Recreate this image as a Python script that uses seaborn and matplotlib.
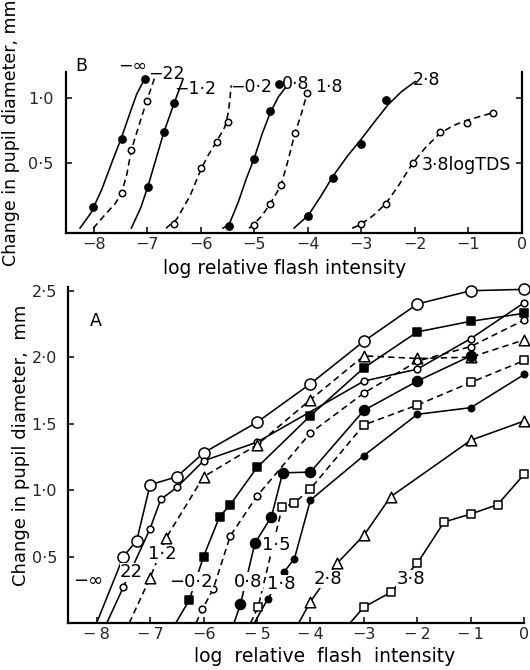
import numpy as np
import pandas as pd
import matplotlib
matplotlib.use("Agg")
import matplotlib.pyplot as plt
import seaborn as sns

# ---------------- DATA ----------------
# Panel B: measured points and hand-fitted curves (log relative flash intensity, change in pupil diameter mm)
b_inf_x = [-8.01, -7.48, -7.05]
b_inf_y = [0.16, 0.69, 1.15]
b_inf_fx = [-8.26, -8.05, -7.85, -7.65, -7.48, -7.33, -7.20, -7.05]
b_inf_fy = [0.0, 0.12, 0.30, 0.52, 0.70, 0.88, 1.03, 1.15]

b_m22_x = [-7.48, -7.30, -7.01]
b_m22_y = [0.27, 0.60, 0.98]
b_m22_fx = [-8.01, -7.80, -7.60, -7.48, -7.38, -7.30, -7.15, -7.01, -6.86]
b_m22_fy = [0.0, 0.10, 0.19, 0.27, 0.42, 0.60, 0.80, 0.98, 1.16]

b_m12_x = [-6.99, -6.69, -6.50]
b_m12_y = [0.32, 0.74, 0.96]
b_m12_fx = [-7.30, -7.12, -6.99, -6.84, -6.69, -6.50, -6.33]
b_m12_fy = [0.0, 0.16, 0.32, 0.53, 0.74, 0.96, 1.15]

b_m02_x = [-6.50, -5.99, -5.70, -5.50]
b_m02_y = [0.03, 0.46, 0.66, 0.82]
b_m02_fx = [-6.65, -6.45, -6.20, -5.99, -5.85, -5.70, -5.55, -5.48, -5.43]
b_m02_fy = [0.0, 0.07, 0.25, 0.46, 0.57, 0.67, 0.78, 0.90, 1.10]

b_p08_x = [-5.47, -5.00, -4.70, -4.53]
b_p08_y = [0.02, 0.53, 0.90, 1.11]
b_p08_fx = [-5.59, -5.47, -5.30, -5.15, -5.00, -4.85, -4.70, -4.55, -4.42]
b_p08_fy = [0.0, 0.03, 0.20, 0.38, 0.54, 0.73, 0.89, 1.01, 1.08]

b_p18_x = [-5.01, -4.70, -4.50, -4.24, -4.01]
b_p18_y = [0.025, 0.19, 0.33, 0.73, 1.04]
b_p18_fx = [-5.10, -5.01, -4.85, -4.70, -4.50, -4.37, -4.24, -4.12, -4.01]
b_p18_fy = [0.0, 0.03, 0.10, 0.19, 0.33, 0.52, 0.73, 0.88, 1.04]

b_p28_x = [-3.99, -3.53, -3.01, -2.54]
b_p28_y = [0.095, 0.39, 0.65, 0.99]
b_p28_fx = [-4.26, -3.99, -3.75, -3.53, -3.25, -3.01, -2.75, -2.50, -2.25, -1.99]
b_p28_fy = [0.0, 0.10, 0.25, 0.40, 0.56, 0.68, 0.82, 0.95, 1.05, 1.13]

b_p38_x = [-3.01, -2.54, -2.04, -1.53, -1.03, -0.53]
b_p38_y = [0.03, 0.19, 0.50, 0.74, 0.81, 0.89]
b_p38_fx = [-3.17, -3.01, -2.77, -2.54, -2.30, -2.04, -1.80, -1.53, -1.28, -1.03, -0.78, -0.53]
b_p38_fy = [0.0, 0.03, 0.10, 0.19, 0.33, 0.50, 0.62, 0.73, 0.79, 0.83, 0.86, 0.89]

# Panel A: measured points; x0 = where each line meets zero response
a_inf_x0 = -8.0
a_inf_x = [-7.5, -7.25, -7.0, -6.5, -6.0, -5.0, -4.0, -3.0, -2.0, -1.0, 0.0]
a_inf_y = [0.50, 0.62, 1.04, 1.10, 1.28, 1.51, 1.80, 2.12, 2.40, 2.50, 2.51]

a_22_x0 = -7.81
a_22_x = [-7.5, -7.0, -6.8, -6.5, -6.0, -5.0, -3.0, -2.0, -1.0, 0.0]
a_22_y = [0.27, 0.71, 0.93, 1.02, 1.22, 1.36, 1.82, 1.91, 2.14, 2.41]

a_12_x0 = -7.39
a_12_x = [-7.0, -6.7, -6.0, -5.0, -4.0, -3.0, -2.0, -1.0, 0.0]
a_12_y = [0.34, 0.64, 1.10, 1.34, 1.68, 2.01, 1.99, 2.00, 2.13]

a_m02_x0 = -6.52
a_m02_x = [-6.27, -6.0, -5.7, -5.5, -5.0, -4.0, -3.0, -2.0, -1.0, 0.0]
a_m02_y = [0.17, 0.50, 0.80, 0.89, 1.17, 1.56, 1.92, 2.19, 2.27, 2.33]

a_08_x0 = -6.14
a_08_x = [-6.02, -5.82, -5.5, -5.0, -4.0, -3.0, -2.0, -1.0, 0.0]
a_08_y = [0.105, 0.255, 0.655, 0.955, 1.43, 1.73, 1.97, 2.08, 2.28]

a_15_x0 = -5.43
a_15_x = [-5.31, -5.04, -4.73, -4.52, -4.0, -3.0, -2.0, -1.0]
a_15_y = [0.14, 0.60, 0.80, 1.13, 1.135, 1.60, 1.82, 2.01]

a_18_x0 = -5.12
a_18_x = [-4.98, -4.53, -4.31, -4.0, -3.0, -2.0, -1.0, 0.0]
a_18_y = [0.12, 0.87, 0.90, 1.01, 1.49, 1.64, 1.81, 1.975]

a_sf_x0 = -5.05
a_sf_x = [-4.80, -4.50, -4.30, -4.0, -3.0, -2.0, -1.0, 0.0]
a_sf_y = [0.18, 0.38, 0.485, 0.925, 1.26, 1.57, 1.62, 1.87]

a_28_x0 = -4.22
a_28_x = [-4.0, -3.5, -3.0, -2.5, -1.0, 0.0]
a_28_y = [0.16, 0.45, 0.66, 0.95, 1.375, 1.52]

a_38_x0 = -3.26
a_38_x = [-3.0, -2.5, -2.0, -1.5, -1.0, -0.5, 0.0]
a_38_y = [0.12, 0.23, 0.45, 0.76, 0.82, 0.89, 1.12]

x_ticks = [-8, -7, -6, -5, -4, -3, -2, -1, 0]
b_xticklabels = ["−8", "−7", "−6", "−5", "−4", "−3", "−2", "−1", "0"]
a_xticklabels = ["−\u20098", "−\u20097", "−6", "−\u20095", "−\u20094", "−3", "−\u20092", "−\u20091", "0"]
b_yticks = [0.5, 1.0]
b_yticklabels = ["0·5", "1·0"]
a_yticks = [0.5, 1.0, 1.5, 2.0, 2.5]
a_yticklabels = ["0·5", "1·0", "1·5", "2·0", "2·5"]

b_labels = ["−∞", "−22", "−1·2", "−0·2", "0·8", "1·8", "2·8", "3·8logTDS"]
a_labels = ["−∞", "22", "1·2", "−0·2", "0·8", "1·5", "1·8", "2·8", "3·8"]

# ---------------- STYLE / LAYOUT ----------------
sns.set_theme(style="white")
plt.rcParams['font.family'] = ['DejaVu Sans']
plt.rcParams['axes.edgecolor'] = 'black'
plt.rcParams['text.color'] = 'black'

DASH = (0, (4.0, 2.6))
LW = 1.15

fig = plt.figure(figsize=(5.3, 6.7), dpi=100)
fig.patch.set_facecolor('white')
W, H = 530.0, 670.0

axB = fig.add_axes([66 / W, 1 - 232.7 / H, 455.7 / W, 160.4 / H])
axA = fig.add_axes([68.3 / W, 1 - 623 / H, 456.0 / W, 336.3 / H])


def draw_line(ax, xs, ys, dashed):
    df = pd.DataFrame({"x": xs, "y": ys})
    sns.lineplot(data=df, x="x", y="y", ax=ax, sort=False, estimator=None,
                 color="black", linewidth=LW,
                 linestyle=DASH if dashed else "-", clip_on=False, zorder=2)


def draw_pts(ax, xs, ys, marker, size, filled):
    df = pd.DataFrame({"x": xs, "y": ys})
    sns.scatterplot(data=df, x="x", y="y", ax=ax, marker=marker, s=size ** 2,
                    color="black" if filled else "white", edgecolor="black",
                    linewidth=1.1, clip_on=False, zorder=3)


# Panel B
b_series = [
    (b_inf_x, b_inf_y, b_inf_fx, b_inf_fy, True, False),
    (b_m22_x, b_m22_y, b_m22_fx, b_m22_fy, False, True),
    (b_m12_x, b_m12_y, b_m12_fx, b_m12_fy, True, False),
    (b_m02_x, b_m02_y, b_m02_fx, b_m02_fy, False, True),
    (b_p08_x, b_p08_y, b_p08_fx, b_p08_fy, True, False),
    (b_p18_x, b_p18_y, b_p18_fx, b_p18_fy, False, True),
    (b_p28_x, b_p28_y, b_p28_fx, b_p28_fy, True, False),
    (b_p38_x, b_p38_y, b_p38_fx, b_p38_fy, False, True),
]
for px_, py_, fx_, fy_, filled, dashed in b_series:
    draw_line(axB, fx_, fy_, dashed)
    draw_pts(axB, px_, py_, "o", 5.2 if filled else 4.6, filled)

b_label_pos = [(-7.28, 1.25), (-6.64, 1.185), (-6.10, 1.07), (-5.05, 1.09),
               (-4.22, 1.11), (-3.61, 1.09), (-1.78, 1.14), (-1.04, 0.487)]
for txt, (tx, ty) in zip(b_labels, b_label_pos):
    axB.text(tx, ty, txt, fontsize=12.5, ha="center", va="center", clip_on=False)
axB.text(-8.23, 1.25, "B", fontsize=12.5, ha="center", va="center", clip_on=False)

# Panel A
a_series = [
    (a_inf_x0, a_inf_x, a_inf_y, "o", 8.0, False, False),
    (a_22_x0, a_22_x, a_22_y, "o", 4.8, False, False),
    (a_12_x0, a_12_x, a_12_y, "^", 7.6, False, True),
    (a_m02_x0, a_m02_x, a_m02_y, "s", 5.6, True, False),
    (a_08_x0, a_08_x, a_08_y, "o", 4.8, False, True),
    (a_15_x0, a_15_x, a_15_y, "o", 7.2, True, False),
    (a_18_x0, a_18_x, a_18_y, "s", 5.6, False, True),
    (a_sf_x0, a_sf_x, a_sf_y, "o", 4.6, True, False),
    (a_28_x0, a_28_x, a_28_y, "^", 7.6, False, False),
    (a_38_x0, a_38_x, a_38_y, "s", 5.6, False, False),
]
for x0, xs, ys, mk, ms, filled, dashed in a_series:
    draw_line(axA, [x0] + xs, [0.0] + ys, dashed)
    draw_pts(axA, xs, ys, mk, ms, filled)

a_label_pos = [(-8.15, 0.317), (-7.35, 0.38), (-6.78, 0.52), (-6.24, 0.31),
               (-5.16, 0.31), (-4.63, 0.59), (-4.55, 0.29), (-3.68, 0.33), (-2.12, 0.33)]
for txt, (tx, ty) in zip(a_labels, a_label_pos):
    axA.text(tx, ty, txt, fontsize=13, ha="center", va="center", clip_on=False,
             bbox=dict(facecolor="white", edgecolor="none", pad=0.3))
axA.text(-8.02, 2.27, "A", fontsize=12.5, ha="center", va="center")

# Axes formatting
for ax in (axA, axB):
    ax.set_facecolor("white")
    ax.grid(False)
    ax.set_xlabel("")
    ax.set_ylabel("")
    ax.set_xticks(x_ticks)
    ax.spines["top"].set_visible(False)
    for s in ("left", "bottom", "right"):
        ax.spines[s].set_linewidth(1.6)
        ax.spines[s].set_color("black")

axB.set_xlim(-8.52, 0.0)
axB.set_ylim(-0.034, 1.20)
axB.set_xticklabels(b_xticklabels)
axB.set_yticks(b_yticks)
axB.set_yticklabels(b_yticklabels)
axB.tick_params(axis="x", direction="in", length=4, width=1.3, labelsize=11.5, pad=3, bottom=True)
axB.tick_params(axis="y", direction="in", length=4, width=1.3, labelsize=11.5, pad=9,
                left=True, right=True)

axA.set_xlim(-8.53, 0.0)
axA.set_ylim(0.0, 2.53)
axA.spines["right"].set_visible(False)
axA.set_xticklabels(a_xticklabels)
axA.set_yticks(a_yticks)
axA.set_yticklabels(a_yticklabels)
axA.tick_params(axis="x", direction="in", length=4, width=1.3, labelsize=11.5, pad=3, bottom=True)
axA.tick_params(axis="y", direction="in", length=4, width=1.3, labelsize=11.5, pad=8, left=True)

# Axis titles
fig.text(285 / W, 1 - 268 / H, "log relative flash intensity", fontsize=13.5, ha="center", va="center")
fig.text(325 / W, 1 - 657 / H, "log  relative  flash  intensity", fontsize=13.5, ha="center", va="center")
fig.text(11 / W, 1 - 133 / H, "Change in pupil diameter, mm", fontsize=12.5, rotation=90,
         ha="center", va="center")
fig.text(21 / W, 1 - 445 / H, "Change in pupil diameter,  mm", fontsize=13, rotation=90,
         ha="center", va="center")

fig.savefig("out.png", dpi=100, facecolor="white")
